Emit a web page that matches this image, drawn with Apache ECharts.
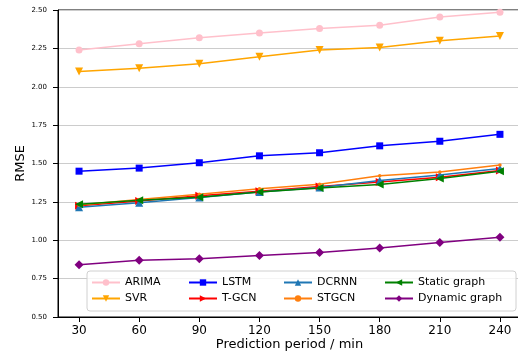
<!DOCTYPE html>
<html>
<head>
<meta charset="utf-8">
<script src="https://cdn.jsdelivr.net/npm/echarts@6/dist/echarts.min.js"></script>
<style>
html,body{margin:0;padding:0;background:#fff;}
#main{width:518px;height:353px;}
</style>
</head>
<body>
<div id="main"></div>
<script>
// prediction period (min)
var periods = [30, 60, 90, 120, 150, 180, 210, 240]
var yTicks = [0.5, 2.5, 0.25]   // min, max, step

var arima   = [2.24, 2.28, 2.32, 2.35, 2.38, 2.40, 2.455, 2.485]
var svr     = [2.10, 2.12, 2.15, 2.195, 2.24, 2.255, 2.30, 2.33]
var lstm    = [1.45, 1.47, 1.505, 1.55, 1.57, 1.615, 1.645, 1.69]
var tgcn    = [1.225, 1.255, 1.29, 1.32, 1.35, 1.38, 1.41, 1.455]
var dcrnn   = [1.215, 1.245, 1.278, 1.315, 1.343, 1.39, 1.425, 1.468]
var stgcn   = [1.23, 1.265, 1.30, 1.335, 1.365, 1.42, 1.445, 1.49]
var staticG = [1.235, 1.26, 1.28, 1.315, 1.34, 1.363, 1.403, 1.45]
var dynamicG = [0.84, 0.87, 0.88, 0.90, 0.92, 0.95, 0.985, 1.02]

var font = 'DejaVu Sans'

function pairs(vals) {
    return periods.map(function (p, i) { return [p, vals[i]] })
}

function mk(name, vals, color, symbol, size, rot) {
    return {
        name: name,
        type: 'line',
        data: pairs(vals),
        symbol: symbol,
        symbolSize: size,
        symbolRotate: rot || 0,
        showAllSymbol: true,
        lineStyle: {color: color, width: 1.5},
        itemStyle: {color: color},
        emphasis: {disabled: true},
        animation: false
    }
}

function legendCol(left, names) {
    return {
        orient: 'vertical',
        left: left,
        top: 272,
        itemWidth: 28,
        itemHeight: 8,
        itemGap: 5,
        symbolRotate: 'inherit',
        textStyle: {fontFamily: font, fontSize: 11, color: '#000'},
        data: names,
        z: 20
    }
}

var chart = echarts.init(document.getElementById('main'), null, {renderer: 'canvas'})
chart.setOption({
    backgroundColor: '#fff',
    animation: false,
    grid: {
        left: 58, top: 10, right: -3, bottom: 36,
        outerBoundsMode: 'none',
        containLabel: false,
        show: true, borderColor: '#000', borderWidth: 1
    },
    xAxis: {
        type: 'value',
        min: 19.5,
        max: 250.5,
        name: 'Prediction period / min',
        nameLocation: 'middle',
        nameGap: 21,
        nameMoveOverlap: false,
        nameTextStyle: {fontFamily: font, fontSize: 13, color: '#000'},
        axisLine: {lineStyle: {color: '#000'}},
        axisTick: {show: true, length: 5, customValues: periods, lineStyle: {color: '#000'}},
        axisLabel: {customValues: periods, fontFamily: font, fontSize: 12, color: '#000', margin: 8},
        splitLine: {show: false}
    },
    yAxis: {
        type: 'value',
        min: yTicks[0],
        max: yTicks[1],
        interval: yTicks[2],
        name: 'RMSE',
        nameLocation: 'middle',
        nameGap: 31,
        nameMoveOverlap: false,
        nameTextStyle: {fontFamily: font, fontSize: 13, color: '#000'},
        axisLine: {lineStyle: {color: '#000'}},
        axisTick: {show: true, length: 5, lineStyle: {color: '#000'}},
        axisLabel: {
            fontFamily: font, fontSize: 7, color: '#000', margin: 11,
            formatter: function (v) { return v.toFixed(2) }
        },
        splitLine: {show: true, lineStyle: {color: '#cccccc', width: 1}}
    },
    graphic: [{
        type: 'rect',
        shape: {x: 87, y: 271, width: 429, height: 40, r: 3},
        style: {fill: 'rgba(255,255,255,0.8)', stroke: '#d0d0d0', lineWidth: 1},
        z: 10
    }],
    legend: [
        legendCol(86, ['ARIMA', 'SVR']),
        legendCol(183, ['LSTM', 'T-GCN']),
        legendCol(278, ['DCRNN', 'STGCN']),
        legendCol(379, ['Static graph', 'Dynamic graph'])
    ],
    series: [
        mk('ARIMA', arima, '#ffc0cb', 'circle', 7),
        mk('SVR', svr, '#ffa500', 'triangle', 8, 180),
        mk('LSTM', lstm, '#0000ff', 'rect', 7),
        mk('T-GCN', tgcn, '#ff0000', 'triangle', 8, -90),
        mk('DCRNN', dcrnn, '#1f77b4', 'triangle', 8),
        mk('STGCN', stgcn, '#ff7f0e', 'circle', 3.5),
        mk('Static graph', staticG, '#008000', 'triangle', 8, 90),
        mk('Dynamic graph', dynamicG, '#800080', 'diamond', 9)
    ]
})
</script>
</body>
</html>
